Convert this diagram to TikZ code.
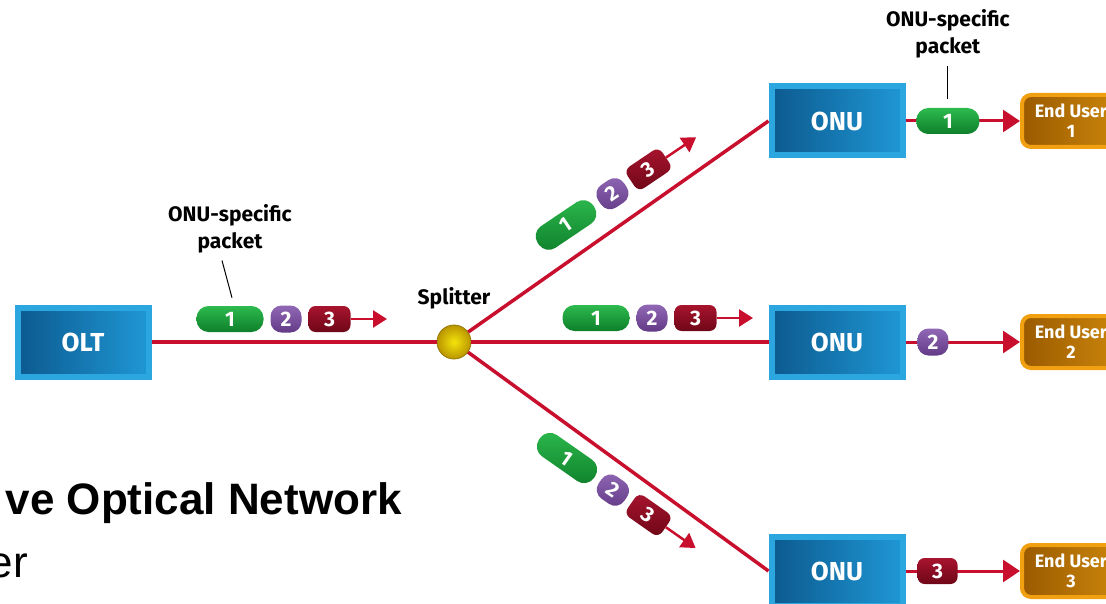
\documentclass[tikz,border=0pt]{standalone}
\usepackage{fontspec}
\setsansfont{Fira Sans}
\newfontfamily\captionfont{Liberation Sans}
\usetikzlibrary{arrows.meta}

\definecolor{fibre}{HTML}{C8102E}
\definecolor{boxframe}{HTML}{2BA6DF}
\definecolor{boxdark}{HTML}{0C5A8F}
\definecolor{boxlight}{HTML}{1F97D5}
\definecolor{userframe}{HTML}{F0A010}
\definecolor{userdark}{HTML}{9A5A00}
\definecolor{userlight}{HTML}{CC860A}
\definecolor{pktgreen}{HTML}{2DBA4E}
\definecolor{pktgreendk}{HTML}{0E7F2A}
\definecolor{pktpurple}{HTML}{9168B5}
\definecolor{pktpurpledk}{HTML}{623A86}
\definecolor{pktred}{HTML}{A8142E}
\definecolor{pktreddk}{HTML}{6E0717}
\definecolor{splityellow}{HTML}{F4E40C}
\definecolor{splitgold}{HTML}{B99500}

\begin{document}
\begin{tikzpicture}[x=1pt, y=-1pt, node distance=100pt,
  unit/.style={rectangle, draw=boxframe, line width=6pt, left color=boxdark, right color=boxlight, minimum width=131pt, minimum height=69pt, outer sep=3pt, text=white, font=\sffamily\bfseries\fontsize{26}{28}\selectfont},
  enduser/.style={rectangle, rounded corners=9pt, draw=userframe, line width=4pt, left color=userdark, right color=userlight, minimum width=98pt, minimum height=52pt, outer sep=2pt, inner sep=2pt, align=center, text=white, font=\sffamily\bfseries\fontsize{18}{20}\selectfont},
  pkt/.style={rectangle, inner sep=0pt, minimum height=26pt, text=white, font=\sffamily\bfseries\fontsize{21}{21}\selectfont},
  pktone/.style={pkt, rounded corners=12pt, minimum width=67pt, top color=pktgreen, bottom color=pktgreendk},
  pkttwo/.style={pkt, rounded corners=11pt, minimum width=31pt, minimum height=27pt, top color=pktpurple, bottom color=pktpurpledk},
  pktthree/.style={pkt, rounded corners=7pt, minimum width=42pt, top color=pktred, bottom color=pktreddk},
  splitter/.style={circle, inner sep=0pt, minimum size=34pt, inner color=splityellow, outer color=splitgold, draw=splitgold!80!black, line width=0.8pt},
  fiber/.style={draw=fibre, line width=3.5pt},
  flow/.style={draw=fibre, line width=2.5pt, -{Triangle[length=14pt, width=17pt]}},
  outflow/.style={draw=fibre, line width=3pt, -{Triangle[length=17pt, width=22pt]}},
  note/.style={align=center, inner sep=1pt, font=\sffamily\bfseries\fontsize{21}{27}\selectfont},
  leader/.style={draw=black, line width=1pt}]

  \useasboundingbox (0,0) rectangle (1106,604);
  \clip (0,0) rectangle (1106,604);

  % head end, splitter and the three units
  \node[unit] (olt) at (83,342) {OLT};
  \node[splitter, right of=olt, node distance=371pt] (split) {};
  \node[note, above of=split, node distance=44pt] (splitlabel) {Splitter};
  \node[unit, right of=split, node distance=383pt] (onu2) {ONU};
  \node[unit, above of=onu2, node distance=221pt] (onu1) {ONU};
  \node[unit, below of=onu2, node distance=229pt] (onu3) {ONU};

  \node[enduser, right of=onu1, node distance=234pt] (user1) {End User\\1};
  \node[enduser, right of=onu2, node distance=234pt] (user2) {End User\\2};
  \node[enduser, right of=onu3, node distance=234pt] (user3) {End User\\3};

  % fibres
  \draw[fiber] (olt) -- (split);
  \draw[fiber] (split) -- (onu1.west);
  \draw[fiber] (split) -- (onu2);
  \draw[fiber] (split) -- (onu3.west);

  % packet trains
  \foreach \grp/\px/\py/\ang in {main/230/319/0, mid/596/318/0, up/566/225/34, down/567/458/-35}{
    \begin{scope}[shift={(\px,\py)}, rotate=\ang, transform shape]
      \node[pktone] (\grp1) at (0,0) {1};
      \node[pkttwo] (\grp2) at (56,0) {2};
      \node[pktthree] (\grp3) at (99.5,0) {3};
      \coordinate (\grp-tip) at (157,0);
      \draw[flow] (\grp3) -- (\grp-tip);
    \end{scope}
  }

  % delivery to the end users
  \draw[outflow] (onu1) -- node[pktone, minimum width=63pt, pos=0.37] (deliver1) {1} (user1);
  \draw[outflow] (onu2) -- node[pkttwo, pos=0.24] (deliver2) {2} (user2);
  \draw[outflow] (onu3) -- node[pktthree, minimum width=40pt, pos=0.28] (deliver3) {3} (user3);

  % callouts
  \node[note, above of=main1, node distance=90pt] (note1) {ONU-specific\\packet};
  \node[note, above of=deliver1, node distance=87pt] (note2) {ONU-specific\\packet};
  \draw[leader] ([xshift=-8pt, yshift=-6pt]note1.south) -- ([xshift=2pt, yshift=8pt]main1.north);
  \draw[leader] ([yshift=-6pt]note2.south) -- ([yshift=7pt]deliver1.north);

  % caption
  \node[anchor=base east, inner sep=0pt, font=\captionfont\bfseries\fontsize{44}{48}\selectfont] (title) at (402,514) {ve Optical Network};
  \node[anchor=base east, inner sep=0pt, font=\captionfont\fontsize{44}{48}\selectfont] (subtitle) at (28,577) {er};
\end{tikzpicture}
\end{document}
